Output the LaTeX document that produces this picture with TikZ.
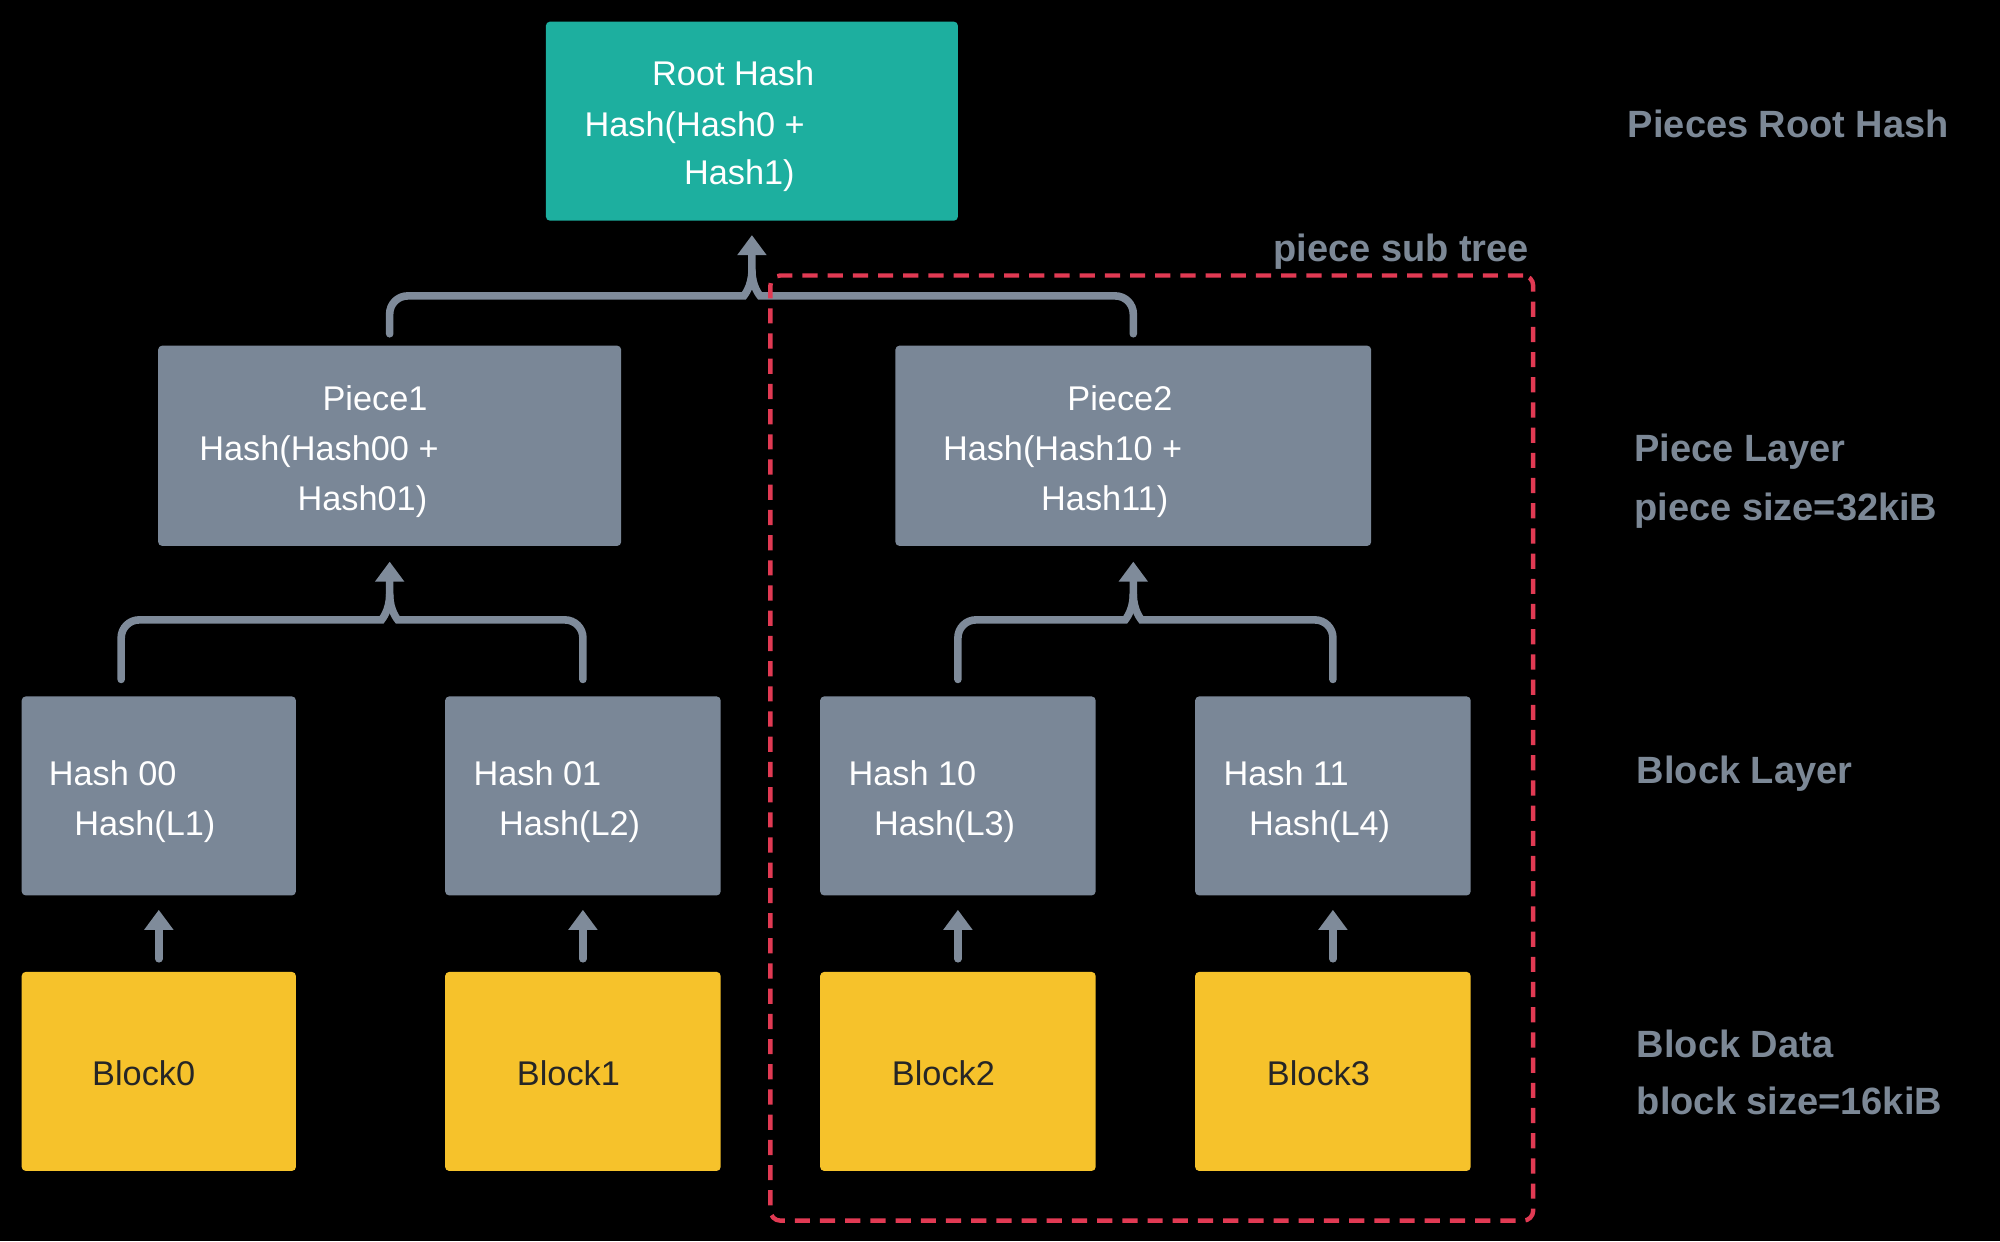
\documentclass[tikz,border=0pt]{standalone}
\usepackage{fontspec}
\setmainfont{Liberation Sans}
\usetikzlibrary{arrows.meta,calc}
\definecolor{slatebox}{HTML}{7A8797}
\definecolor{tealbox}{HTML}{1DAF9F}
\definecolor{yellowbox}{HTML}{F6C22B}
\definecolor{conncol}{HTML}{7F8B9A}
\definecolor{labcol}{HTML}{7C8896}
\definecolor{reddash}{HTML}{E13A53}
\begin{document}
\begin{tikzpicture}[x=0.6378pt,y=-0.6378pt,
  box/.style={rectangle, rounded corners=2pt, minimum width=#1*0.6378pt, minimum height=156*0.6378pt, inner sep=0pt},
  btxt/.style={anchor=base west, inner sep=0pt, text=white, font=\fontsize{17.15}{20}\selectfont},
  ctxt/.style={anchor=base, inner sep=0pt, text=white, font=\fontsize{17.15}{20}\selectfont},
  labtxt/.style={anchor=base west, inner sep=0pt, text=labcol, font=\bfseries\fontsize{19}{22}\selectfont},
  conn/.style={draw=conncol, line width=3.8pt, line cap=round},
  tip/.style={-{Triangle[width=14pt,length=10pt]}}
]
\fill[black] (0,0) rectangle (1568,973);
\useasboundingbox (0,0) rectangle (1568,973);

% boxes
\node[box=323, fill=tealbox] (root) at (589.5,95) {};
\node[box=363, fill=slatebox, minimum height=157*0.6378pt] (p1) at (305.5,349.5) {};
\node[box=373, fill=slatebox, minimum height=157*0.6378pt] (p2) at (888.5,349.5) {};
\node[box=215, fill=slatebox] (h00) at (124.5,624) {};
\node[box=216, fill=slatebox] (h01) at (457,624) {};
\node[box=216, fill=slatebox] (h10) at (751,624) {};
\node[box=216, fill=slatebox] (h11) at (1045,624) {};
\node[box=215, fill=yellowbox] (b0) at (124.5,840) {};
\node[box=216, fill=yellowbox] (b1) at (457,840) {};
\node[box=216, fill=yellowbox] (b2) at (751,840) {};
\node[box=216, fill=yellowbox] (b3) at (1045,840) {};

% box texts
\node[btxt] (root-a) at (511,67) {Root Hash};
\node[btxt] (root-b) at (458,107) {Hash(Hash0 +};
\node[btxt] (root-c) at (536,145) {Hash1)};
\node[ctxt] (p1-a) at (294,322) {Piece1};
\node[btxt] (p1-b) at (156,361) {Hash(Hash00 +};
\node[btxt] (p1-c) at (233,400) {Hash01)};
\node[ctxt] (p2-a) at (878,322) {Piece2};
\node[btxt] (p2-b) at (739,361) {Hash(Hash10 +};
\node[btxt] (p2-c) at (816,400) {Hash11)};
\node[btxt] (h00-a) at (38,616) {Hash 00};
\node[btxt] (h00-b) at (58,655) {Hash(L1)};
\node[btxt] (h01-a) at (371,616) {Hash 01};
\node[btxt] (h01-b) at (391,655) {Hash(L2)};
\node[btxt] (h10-a) at (665,616) {Hash 10};
\node[btxt] (h10-b) at (685,655) {Hash(L3)};
\node[btxt] (h11-a) at (959,616) {Hash 11};
\node[btxt] (h11-b) at (979,655) {Hash(L4)};
\node[btxt, text=black!85] (b0-a) at (72,851) {Block0};
\node[btxt, text=black!85] (b1-a) at (405,851) {Block1};
\node[btxt, text=black!85] (b2-a) at (699,851) {Block2};
\node[btxt, text=black!85] (b3-a) at (993,851) {Block3};

% small arrows
\draw[conn,tip] ($(b0.north)+(0,-10)$) -- ($(h00.south)+(0,11)$);
\draw[conn,tip] ($(b1.north)+(0,-10)$) -- ($(h01.south)+(0,11)$);
\draw[conn,tip] ($(b2.north)+(0,-10)$) -- ($(h10.south)+(0,11)$);
\draw[conn,tip] ($(b3.north)+(0,-10)$) -- ($(h11.south)+(0,11)$);

% brace: piece1
\draw[conn,tip] ($(h00.north)+(-29.5,-13)$) [rounded corners=9pt] |- (285,486) [sharp corners]
   .. controls (299,486) and (305.5,479) .. (305.5,466) -- ($(p1.south)+(0,12)$);
\draw[conn] ($(h01.north)+(0,-13)$) [rounded corners=9pt] |- (326,486) [sharp corners]
   .. controls (312,486) and (305.5,479) .. (305.5,466);
% brace: piece2
\draw[conn,tip] ($(h10.north)+(0,-13)$) [rounded corners=9pt] |- (868,486) [sharp corners]
   .. controls (882,486) and (888.5,479) .. (888.5,466) -- ($(p2.south)+(0,12)$);
\draw[conn] ($(h11.north)+(0,-13)$) [rounded corners=9pt] |- (909,486) [sharp corners]
   .. controls (895,486) and (888.5,479) .. (888.5,466);
% brace: root
\draw[conn,tip] ($(p1.north)+(0,-9)$) [rounded corners=9pt] |- (569,232) [sharp corners]
   .. controls (583,232) and (589.5,225) .. (589.5,212) -- ($(root.south)+(0,11)$);
\draw[conn] ($(p2.north)+(0,-9)$) [rounded corners=9pt] |- (610,232) [sharp corners]
   .. controls (596,232) and (589.5,225) .. (589.5,212);

% piece sub tree
\node[draw=reddash, line width=2.2pt, dash pattern=on 7.6pt off 5pt, rounded corners=5pt,
      minimum width=598*0.6378pt, minimum height=741*0.6378pt, inner sep=0pt] (subtree) at (903,586.5) {};
\node[labtxt, anchor=base east] (subtree-lab) at (1199,205) {piece sub tree};

% right labels
\node[labtxt] (l-root) at (1276,108) {Pieces Root Hash};
\node[labtxt] (l-piece) at (1281,362) {Piece Layer};
\node[labtxt] (l-psize) at (1281,408) {piece size=32kiB};
\node[labtxt] (l-block) at (1283,614) {Block Layer};
\node[labtxt] (l-data) at (1283,829) {Block Data};
\node[labtxt] (l-bsize) at (1283,874) {block size=16kiB};
\end{tikzpicture}
\end{document}
